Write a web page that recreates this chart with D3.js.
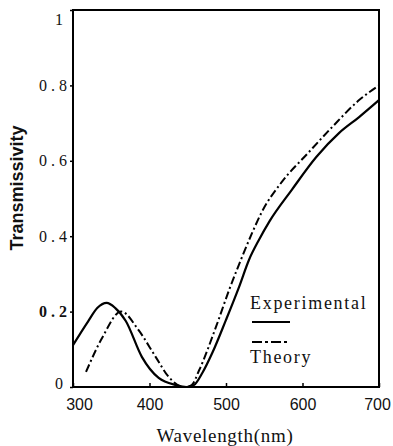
<!DOCTYPE html>
<html>
<head>
<meta charset="utf-8">
<script src="https://cdn.jsdelivr.net/npm/d3@7"></script>
<style>
  body { margin: 0; background: #fff; }
  svg { display: block; }
</style>
</head>
<body>
<div id="chart"></div>
<script>
// Experimental curve (wavelength nm, transmissivity)
const expWavelength = [300, 320, 332, 344, 355, 369, 390, 412, 435, 448, 458, 469, 482, 500, 517, 530, 543, 557, 586, 618, 648, 674, 700];
const expValues = [0.111, 0.175, 0.21, 0.223, 0.21, 0.175, 0.08, 0.024, 0.005, 0.0, 0.005, 0.037, 0.09, 0.178, 0.265, 0.337, 0.39, 0.44, 0.523, 0.61, 0.674, 0.716, 0.761];

// Theory curve
const theoWavelength = [317, 338, 363, 386, 408, 425, 445, 455, 465, 487, 504, 521, 534, 547, 573, 607, 639, 674, 700];
const theoValues = [0.04, 0.13, 0.2, 0.15, 0.08, 0.027, 0.0, 0.005, 0.045, 0.16, 0.257, 0.345, 0.408, 0.465, 0.544, 0.62, 0.69, 0.761, 0.80];

const xTicks = [300, 400, 500, 600, 700];
const yTicks = [0, 0.2, 0.4, 0.6, 0.8, 1];

const width = 393, height = 446;
const plotLeft = 73, plotRight = 379, plotTop = 10, plotBottom = 387;

const svg = d3.select("#chart")
    .append("svg")
    .attr("width", width)
    .attr("height", height);

const x = d3.scaleLinear().domain([300, 700]).range([plotLeft, plotRight]);
const y = d3.scaleLinear().domain([0, 1]).range([plotBottom, plotTop]);

// x axis, ticks pointing inward
const xAxis = svg.append("g")
    .attr("transform", `translate(0,${plotBottom})`)
    .call(d3.axisBottom(x).tickValues(xTicks).tickSize(-4).tickPadding(12).tickFormat(d3.format("d")));
xAxis.select(".domain").remove();
xAxis.selectAll("line").attr("stroke", "#000").attr("stroke-width", 1.5);
xAxis.selectAll("text")
    .attr("fill", "#111")
    .attr("dx", d => d === 300 ? 6 : (d === 700 ? -2 : 0))
    .style("font-family", "Liberation Sans, Arial, sans-serif")
    .style("font-size", "16px");

// y axis, ticks pointing outward
const yAxis = svg.append("g")
    .attr("transform", `translate(${plotLeft},0)`)
    .call(d3.axisLeft(y).tickValues(yTicks).tickSize(3).tickPadding(2)
        .tickFormat(d => (d === 0 || d === 1) ? String(d) : d.toFixed(1)));
yAxis.select(".domain").remove();
yAxis.selectAll("line").attr("stroke", "#000").attr("stroke-width", 1.5);
yAxis.selectAll("text")
    .attr("fill", "#111")
    .style("font-family", "Liberation Serif, Times New Roman, serif")
    .style("font-size", "16px")
    .style("letter-spacing", "4px")
    .style("font-weight", d => d === 0.2 ? "bold" : "normal")
    .attr("dx", d => (d === 0 || d === 1) ? -1 : 3)
    .attr("dy", d => d === 1 ? "0.9em" : (d === 0 ? "0.1em" : "0.32em"));

// frame
svg.append("rect")
    .attr("x", plotLeft)
    .attr("y", plotTop)
    .attr("width", plotRight - plotLeft)
    .attr("height", plotBottom - plotTop)
    .attr("fill", "none")
    .attr("stroke", "#000")
    .attr("stroke-width", 2);

const line = d3.line()
    .x(d => x(d[0]))
    .y(d => y(d[1]))
    .curve(d3.curveMonotoneX);

svg.append("path")
    .datum(d3.zip(expWavelength, expValues))
    .attr("d", line)
    .attr("fill", "none")
    .attr("stroke", "#000")
    .attr("stroke-width", 2.2);

svg.append("path")
    .datum(d3.zip(theoWavelength, theoValues))
    .attr("d", line)
    .attr("fill", "none")
    .attr("stroke", "#000")
    .attr("stroke-width", 2)
    .attr("stroke-dasharray", "8,3,2,3");

// legend
const legendFont = "Liberation Serif, Times New Roman, serif";
svg.append("text")
    .attr("x", 250)
    .attr("y", 309)
    .text("Experimental")
    .style("font-family", legendFont)
    .style("font-size", "18px")
    .style("letter-spacing", "1.7px")
    .attr("fill", "#111");

svg.append("line")
    .attr("x1", 252).attr("x2", 290)
    .attr("y1", 322).attr("y2", 322)
    .attr("stroke", "#000")
    .attr("stroke-width", 2.2);

svg.append("line")
    .attr("x1", 252).attr("x2", 290)
    .attr("y1", 342).attr("y2", 342)
    .attr("stroke", "#000")
    .attr("stroke-width", 2)
    .attr("stroke-dasharray", "10,3,3,3");

svg.append("text")
    .attr("x", 250)
    .attr("y", 363)
    .text("Theory")
    .style("font-family", legendFont)
    .style("font-size", "18px")
    .style("letter-spacing", "1.7px")
    .attr("fill", "#111");

// axis titles
svg.append("text")
    .attr("transform", "translate(23,188) rotate(-90)")
    .attr("text-anchor", "middle")
    .text("Transmissivity")
    .style("font-family", "Liberation Sans, Arial, sans-serif")
    .style("font-size", "18px")
    .style("font-weight", "bold")
    .attr("fill", "#111");

svg.append("text")
    .attr("x", 225)
    .attr("y", 442)
    .attr("text-anchor", "middle")
    .text("Wavelength(nm)")
    .style("font-family", legendFont)
    .style("font-size", "19px")
    .style("letter-spacing", "0.7px")
    .attr("fill", "#111");
</script>
</body>
</html>
